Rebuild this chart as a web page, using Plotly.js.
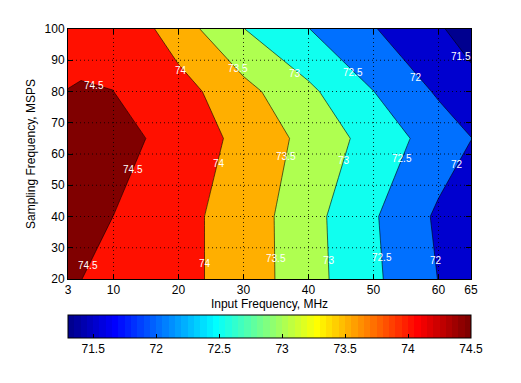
<!DOCTYPE html>
<html><head><meta charset="utf-8">
<script src="https://cdn.plot.ly/plotly-3.0.1.min.js"></script>
<style>html,body{margin:0;padding:0;background:#fff;} #chart{width:521px;height:383px;}</style>
</head><body><div id="chart"></div>
<script>
// ---- data ----
const inputFreqMHz = [3, 5, 10, 20, 30, 40, 50, 60, 65];
const samplingFreqMSPS = [20, 40, 65, 80, 100];
const snrAt20 = [74.55, 74.505, 74.35, 74.14, 73.79, 73.19, 72.59, 71.99, 71.69];
const snrAt40 = [74.75, 74.68, 74.497, 74.14, 73.79, 73.175, 72.55, 71.92, 71.60];
const snrAt65 = [74.92, 74.86, 74.70, 74.298, 73.867, 73.349, 72.806, 72.263, 72.01];
const snrAt80 = [74.505, 74.5064, 74.501, 74.2, 73.655, 73.1, 72.505, 71.938, 71.66];
const snrAt100 = [74.40, 74.47, 74.45, 73.74, 73.01, 72.51, 72.03, 71.55, 71.31];
const contourLevels = [71.5, 72, 72.5, 73, 73.5, 74, 74.5];
const colorLimits = [71.3, 74.5];
const xTicks = [3, 10, 20, 30, 40, 50, 60, 65];
const yTicks = [20, 30, 40, 50, 60, 70, 80, 90, 100];
const colorbarTicks = [71.5, 72, 72.5, 73, 73.5, 74, 74.5];
const labelText = ['74.5','74.5','74.5','74','74','74','73.5','73.5','73.5','73','73','73','72.5','72.5','72.5','72','72','72','71.5'];
const labelX = [7.0, 13.0, 6.1, 20.4, 26.3, 24.0, 29.1, 36.6, 35.0, 37.9, 45.5, 43.1, 46.8, 54.4, 51.3, 56.5, 62.8, 59.6, 63.4];
const labelY = [82.0, 55.2, 24.4, 86.8, 57.1, 25.1, 87.5, 59.2, 26.7, 85.9, 58.0, 26.0, 86.1, 58.7, 26.9, 84.5, 56.8, 25.9, 91.2];

const snrGrid = [snrAt20, snrAt40, snrAt65, snrAt80, snrAt100];

// ---- MATLAB jet(64) colormap ----
function jetMap(m) {
  const n = Math.ceil(m / 4);
  const u = [];
  for (let i = 1; i <= n; i++) u.push(i / n);
  for (let i = 1; i < n; i++) u.push(1);
  for (let i = n; i >= 1; i--) u.push(i / n);
  const off = Math.ceil(n / 2) - (m % 4 === 1 ? 1 : 0);
  const cmap = [];
  for (let i = 0; i < m; i++) cmap.push([0, 0, 0]);
  for (let k = 0; k < u.length; k++) {
    const g = off + k + 1, r = g + n, b = g - n;
    if (r >= 1 && r <= m) cmap[r - 1][0] = u[k];
    if (g >= 1 && g <= m) cmap[g - 1][1] = u[k];
    if (b >= 1 && b <= m) cmap[b - 1][2] = u[k];
  }
  return cmap.map(c => 'rgb(' + c.map(v => Math.round(v * 255)).join(',') + ')');
}
const jet = jetMap(64);
function colorOf(v) {
  let idx = Math.floor((v - colorLimits[0]) / (colorLimits[1] - colorLimits[0]) * 64 + 1e-9);
  idx = Math.max(0, Math.min(63, idx));
  return jet[idx];
}
// stepped jet for the colorbar
const jetScale = [];
jet.forEach((c, i) => { jetScale.push([i / 64, c]); jetScale.push([(i + 1) / 64, c]); });
// band colours as MATLAB contourf: each band coloured by its lower level
const bandColors = [colorOf(colorLimits[0])].concat(contourLevels.map(colorOf));
const nb = bandColors.length - 1;
const bandScale = [];
bandColors.forEach((c, k) => {
  bandScale.push([Math.max(0, (k - 0.5) / nb), c]);
  bandScale.push([Math.min(1, (k + 0.5) / nb), c]);
});

const fontFam = 'Liberation Sans, Arial, Helvetica, sans-serif';

const contour = {
  type: 'contour',
  x: inputFreqMHz, y: samplingFreqMSPS, z: snrGrid,
  autocontour: false,
  contours: {start: contourLevels[0], end: contourLevels[contourLevels.length - 1], size: 0.5, coloring: 'fill', showlabels: false},
  colorscale: bandScale,
  line: {color: '#000', width: 0.6, smoothing: 0},
  showscale: false,
  hoverinfo: 'skip'
};

const cbTrace = {
  type: 'scatter', mode: 'markers', x: [inputFreqMHz[0]], y: [samplingFreqMSPS[0]],
  hoverinfo: 'skip', showlegend: false,
  marker: {
    size: 1, opacity: 0, color: [colorLimits[0]], cmin: colorLimits[0], cmax: colorLimits[1],
    colorscale: jetScale, showscale: true,
    colorbar: {
      orientation: 'h', x: 0.5, xanchor: 'center', y: -0.144, yanchor: 'top',
      len: 403, lenmode: 'pixels', thickness: 23, thicknessmode: 'pixels',
      xpad: 0, ypad: 0, outlinewidth: 1, outlinecolor: '#000', borderwidth: 0,
      tickvals: colorbarTicks, ticktext: colorbarTicks.map(String),
      ticks: 'inside', ticklen: 4, tickcolor: '#000',
      tickfont: {family: fontFam, size: 12, color: '#000'}
    }
  }
};

const shapes = [];
xTicks.slice(1, -1).forEach(v => shapes.push({type: 'line', xref: 'x', yref: 'paper', x0: v, x1: v, y0: 0, y1: 1, layer: 'above', line: {color: '#000', width: 0.8, dash: '1px,3px'}}));
yTicks.slice(1, -1).forEach(v => shapes.push({type: 'line', xref: 'paper', yref: 'y', x0: 0, x1: 1, y0: v, y1: v, layer: 'above', line: {color: '#000', width: 0.8, dash: '1px,3px'}}));

const annotations = labelText.map((t, i) => ({
  x: labelX[i], y: labelY[i], xref: 'x', yref: 'y', text: t, showarrow: false,
  font: {family: fontFam, size: 10, color: '#fff'}
}));

const axisCommon = {
  showline: true, linecolor: '#000', linewidth: 1, mirror: 'ticks',
  ticks: 'inside', ticklen: 5, tickcolor: '#000', tickwidth: 1,
  showgrid: false, zeroline: false, layer: 'above traces',
  tickfont: {family: fontFam, size: 12, color: '#000'}
};

const layout = {
  width: 521, height: 383,
  margin: {l: 68, r: 50, t: 29, b: 104},
  paper_bgcolor: '#fff', plot_bgcolor: '#fff',
  showlegend: false,
  xaxis: Object.assign({}, axisCommon, {
    range: [inputFreqMHz[0], inputFreqMHz[inputFreqMHz.length - 1]],
    tickmode: 'array', tickvals: xTicks, ticktext: xTicks.map(String),
    title: {text: 'Input Frequency, MHz', font: {family: fontFam, size: 12, color: '#000'}, standoff: 2}
  }),
  yaxis: Object.assign({}, axisCommon, {
    range: [samplingFreqMSPS[0], samplingFreqMSPS[samplingFreqMSPS.length - 1]],
    tickmode: 'array', tickvals: yTicks, ticktext: yTicks.map(String),
    title: {text: 'Sampling Frequency, MSPS', font: {family: fontFam, size: 12, color: '#000'}, standoff: 6}
  }),
  shapes: shapes,
  annotations: annotations
};

Plotly.newPlot('chart', [contour, cbTrace], layout, {displayModeBar: false, staticPlot: true});
</script>
</body></html>
